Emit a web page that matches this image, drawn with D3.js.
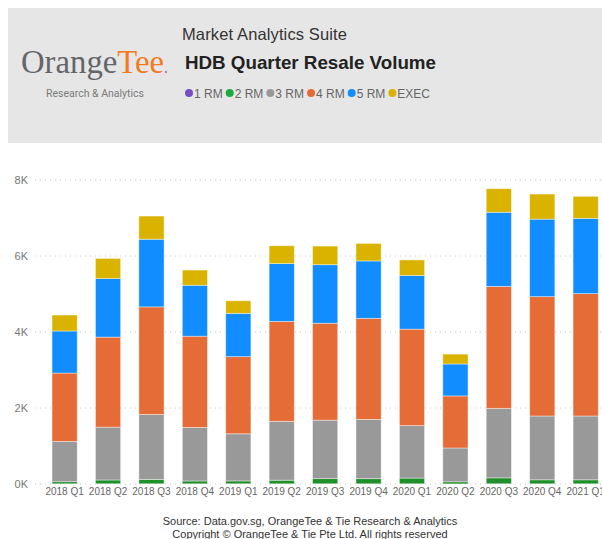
<!DOCTYPE html>
<html>
<head>
<meta charset="utf-8">
<script src="https://cdn.jsdelivr.net/npm/d3@7"></script>
<style>
  body { margin: 0; background: #fff; font-family: "Liberation Sans", Arial, sans-serif; }
</style>
</head>
<body>
<div id="chart"></div>
<script>
// quarters and units sold per flat type
var quarters = ["2018 Q1", "2018 Q2", "2018 Q3", "2018 Q4", "2019 Q1", "2019 Q2", "2019 Q3",
  "2019 Q4", "2020 Q1", "2020 Q2", "2020 Q3", "2020 Q4", "2021 Q1"];
var flatTypes = ["1 RM", "2 RM", "3 RM", "4 RM", "5 RM", "EXEC"];
var rm1 = [5, 6, 6, 5, 6, 5, 6, 5, 6, 3, 6, 5, 5];
var rm2 = [55, 100, 115, 75, 75, 95, 135, 135, 150, 55, 155, 105, 105];
var rm3 = [1060, 1390, 1710, 1410, 1240, 1550, 1540, 1560, 1380, 890, 1830, 1680, 1680];
var rm4 = [1800, 2370, 2830, 2400, 2030, 2630, 2550, 2660, 2540, 1370, 3210, 3140, 3220];
var rm5 = [1106, 1540, 1780, 1340, 1140, 1520, 1540, 1510, 1410, 840, 1950, 2040, 1980];
var exec = [420, 530, 610, 400, 330, 470, 490, 460, 410, 260, 620, 660, 580];
var yTicks = [0, 2000, 4000, 6000, 8000];
var colors = ["#744ec2", "#1aab40", "#999999", "#e66c37", "#118dff", "#d9b300"];

var width = 602, height = 539;
var svg = d3.select("#chart").append("svg").attr("width", width).attr("height", height);

// header panel
svg.append("rect").attr("x", 8).attr("y", 8).attr("width", width - 8).attr("height", 135).attr("fill", "#e6e6e6");

var logo = svg.append("text").attr("x", 21).attr("y", 73)
  .style("font-family", "'Liberation Serif', serif").style("font-size", "34px")
  .attr("textLength", 143).attr("lengthAdjust", "spacingAndGlyphs");
logo.append("tspan").text("Orange").attr("fill", "#646569");
logo.append("tspan").text("Tee").attr("fill", "#f47920");
svg.append("circle").attr("cx", 166).attr("cy", 72).attr("r", 1.2).attr("fill", "#999");
svg.append("text").attr("x", 95).attr("y", 97).attr("text-anchor", "middle")
  .attr("fill", "#7a7a7a").style("font-size", "10.5px").style("font-family", "Roboto, sans-serif")
  .text("Research & Analytics");

svg.append("text").attr("x", 182).attr("y", 40).attr("fill", "#333")
  .style("font-size", "16.5px").attr("textLength", 165).text("Market Analytics Suite");
svg.append("text").attr("x", 185).attr("y", 69).attr("fill", "#222")
  .style("font-size", "19px").style("font-weight", "bold")
  .attr("textLength", 251).attr("lengthAdjust", "spacingAndGlyphs").text("HDB Quarter Resale Volume");

// legend
var lx = 189;
flatTypes.forEach((t, i) => {
  svg.append("circle").attr("cx", lx).attr("cy", 93).attr("r", 4).attr("fill", colors[i]);
  var tx = svg.append("text").attr("x", lx + 5).attr("y", 97.5).attr("fill", "#666")
    .style("font-size", "12px").text(t);
  lx += tx.node().getComputedTextLength() + 12;
});

// scales
var y = d3.scaleLinear().domain([0, 8000]).range([484, 180]);
var x = d3.scaleBand().domain(quarters).range([33.8, 616.5]).paddingInner(0.42).paddingOuter(0.42);

// grid + y labels
svg.append("g").selectAll("line").data(yTicks).join("line")
  .attr("x1", 35).attr("x2", width).attr("y1", d => y(d)).attr("y2", d => y(d))
  .attr("stroke", "#c8c8c8").attr("stroke-dasharray", "1,4");
svg.append("g").selectAll("text").data(yTicks).join("text")
  .attr("x", 28).attr("y", d => y(d) + 4).attr("text-anchor", "end")
  .attr("fill", "#777").style("font-size", "11px").text(d => (d / 1000) + "K");

// stacked bars
var table = quarters.map((q, i) => ({
  q: q, "1 RM": rm1[i], "2 RM": rm2[i], "3 RM": rm3[i], "4 RM": rm4[i], "5 RM": rm5[i], "EXEC": exec[i]
}));
var series = d3.stack().keys(flatTypes)(table);
var color = d3.scaleOrdinal().domain(flatTypes).range(colors);

svg.append("g").selectAll("g").data(series).join("g")
  .attr("fill", d => d.key === "2 RM" ? "#1f8f2a" : color(d.key))
  .selectAll("rect").data(d => d).join("rect")
  .attr("x", d => x(d.data.q)).attr("width", x.bandwidth())
  .attr("y", d => y(d[1])).attr("height", d => y(d[0]) - y(d[1]))
  .attr("stroke", "#fff").attr("stroke-opacity", 0.5).attr("stroke-width", 0.8);

// x labels
svg.append("g").selectAll("text").data(quarters).join("text")
  .attr("x", d => x(d) + x.bandwidth() / 2).attr("y", 495).attr("text-anchor", "middle")
  .attr("fill", "#666").style("font-size", "10px").text(d => d);

// footer
svg.append("text").attr("x", 310).attr("y", 525).attr("text-anchor", "middle").attr("fill", "#333")
  .style("font-size", "11px").text("Source: Data.gov.sg, OrangeTee & Tie Research & Analytics");
svg.append("text").attr("x", 310).attr("y", 538).attr("text-anchor", "middle").attr("fill", "#333")
  .style("font-size", "11px").text("Copyright © OrangeTee & Tie Pte Ltd. All rights reserved");
</script>
</body>
</html>
